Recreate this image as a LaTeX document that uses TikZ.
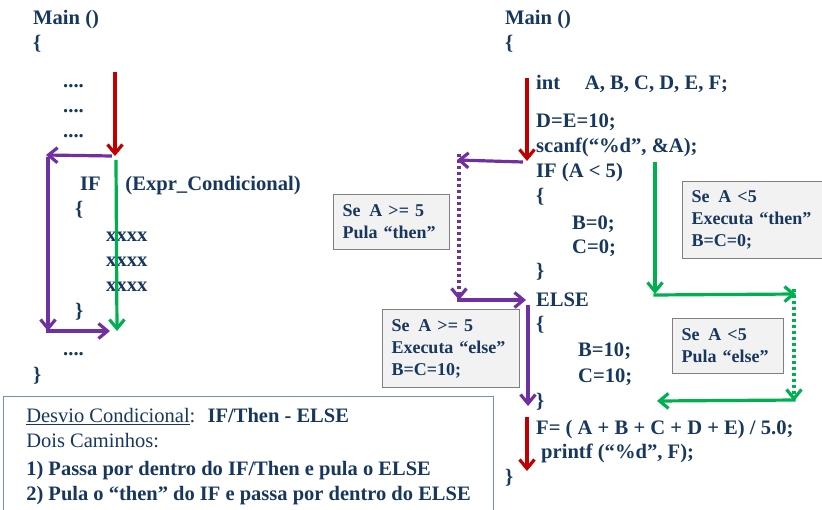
\documentclass[tikz,border=0pt]{standalone}
\usepackage{fontspec}
\setmainfont{Liberation Serif}
\usepackage{tikz}
\usetikzlibrary{arrows.meta}

\definecolor{codeblue}{RGB}{23,55,94}
\definecolor{flowred}{RGB}{192,0,0}
\definecolor{flowgreen}{RGB}{0,176,80}
\definecolor{flowpurple}{RGB}{112,48,160}
\definecolor{notegray}{RGB}{242,242,242}
\definecolor{noteedge}{RGB}{128,128,128}
\definecolor{infoedge}{RGB}{120,145,175}

\tikzset{
  >={Straight Barb[length=9pt, width=15pt]},
  code/.style={anchor=base west, inner sep=0pt, text=codeblue,
    font=\fontsize{20.6}{24}\selectfont\bfseries},
  flow/.style={line width=3.2pt, ->},
  dots/.style={dash pattern=on 3.2pt off 2.8pt},
  notebox/.style={draw=noteedge, fill=notegray, line width=1pt, anchor=north west,
    text=codeblue, align=left, inner xsep=9pt, inner ysep=0pt,
    font=\fontsize{18}{22}\selectfont\bfseries},
}

\begin{document}
\begin{tikzpicture}[x=1pt,y=-1pt]
        \useasboundingbox (0,0) rectangle (822,509);

        % Left program
        \node[code] (lmain) at (33,24) {Main ()};
        \node[code] (lopen) at (33,49) {\{};
        \node[code] (ldotsa) at (63,87) {....};
        \node[code] (ldotsb) at (63,112) {....};
        \node[code] (ldotsc) at (63,137) {....};
        \node[code] (lif) at (80,190) {IF\hspace{1.2em}(Expr\_Condicional)};
        \node[code] (lifopen) at (75,215) {\{};
        \node[code] (lxa) at (106,241) {xxxx};
        \node[code] (lxb) at (106,266) {xxxx};
        \node[code] (lxc) at (106,291) {xxxx};
        \node[code] (lifclose) at (75,317) {\}};
        \node[code] (ldotsd) at (63,355) {....};
        \node[code] (lclose) at (33,381) {\}};

        % Left flow lines
        \coordinate (lredtop) at (115,72);
        \coordinate (lsplit) at (115,156);
        \coordinate (lpurpleleft) at (48,155);
        \coordinate (lpurplebottom) at (48,331);
        \coordinate (ljoin) at (110,331);
        \coordinate (lgreentop) at (116,160);
        \coordinate (lgreenend) at (117,331);
        \draw[flow, flowred] (lredtop) -- (lsplit);
        \draw[flow, flowpurple] ([xshift=-3pt]lsplit) -- ([xshift=-2pt]lpurpleleft);
        \draw[flow, flowpurple] ([yshift=-1.6pt]lpurpleleft) -- (lpurplebottom);
        \draw[flow, flowpurple] ([xshift=-1.6pt]lpurplebottom) -- (ljoin);
        \draw[flow, flowgreen] (lgreentop) -- (lgreenend);

        % Right program
        \node[code] (rmain) at (505,24) {Main ()};
        \node[code] (ropen) at (505,49) {\{};
        \node[code] (rint) at (536,89) {int\hspace{0.95em} A, B, C, D, E, F;};
        \node[code] (rde) at (536,127) {D=E=10;};
        \node[code] (rscan) at (536,152) {scanf(“\%d”, \&A);};
        \node[code] (rif) at (536,177) {IF (A < 5)};
        \node[code] (rifopen) at (536,202) {\{};
        \node[code] (rba) at (572,229) {B=0;};
        \node[code] (rca) at (572,253) {C=0;};
        \node[code] (rifclose) at (536,277) {\}};
        \node[code] (relse) at (536,306) {ELSE};
        \node[code] (relseopen) at (536,330) {\{};
        \node[code] (rbb) at (578,356) {B=10;};
        \node[code] (rcb) at (578,382) {C=10;};
        \node[code] (relseclose) at (536,407) {\}};
        \node[code] (rf) at (536,434) {F= ( A + B + C + D + E) / 5.0;};
        \node[code] (rprint) at (541,458) {printf (“\%d”, F);};
        \node[code] (rclose) at (505,483) {\}};

        % Notes
        \node[notebox, minimum width=116pt, minimum height=55pt, text width=98pt]
          (nskipthen) at (333,194) {Se\, A >= 5\\Pula “then”};
        \node[notebox, minimum width=142pt, minimum height=77pt, text width=124pt]
          (nrunthen) at (682,181) {Se\, A <5\\Executa “then”\\B=C=0;};
        \node[notebox, minimum width=137pt, minimum height=78pt, text width=119pt]
          (nrunelse) at (382,309) {Se\, A >= 5\\Executa “else”\\B=C=10;};
        \node[notebox, minimum width=111pt, minimum height=55pt, text width=93pt]
          (nskipelse) at (672,318) {Se\, A <5\\Pula “else”};

        % Right flow lines: A >= 5
        \coordinate (rredtop) at (527,78);
        \coordinate (rsplit) at (527,161);
        \coordinate (rpurpleleft) at (459,160);
        \coordinate (rpurplebottom) at (459,300);
        \coordinate (relsein) at (526,300);
        \coordinate (relsetop) at (528,305);
        \coordinate (relseout) at (528,406);
        \coordinate (rredlow) at (527,417);
        \coordinate (rredend) at (527,471);
        \draw[flow, flowred] (rredtop) -- (rsplit);
        \draw[flow, flowpurple] ([xshift=-4pt,yshift=-1pt]rsplit) -- ([xshift=-2pt]rpurpleleft);
        \draw[flow, flowpurple, dots] ([yshift=6pt]rpurpleleft) -- (rpurplebottom);
        \draw[flow, flowpurple] ([xshift=-1.6pt]rpurplebottom) -- (relsein);
        \draw[flow, flowpurple] (relsetop) -- (relseout);
        \draw[flow, flowred] (rredlow) -- (rredend);

        % Right flow lines: A < 5
        \coordinate (rgreentop) at (655,162);
        \coordinate (rgreencorner) at (655,294);
        \coordinate (rgreenright) at (796,294);
        \coordinate (rgreenlow) at (794,401);
        \coordinate (rgreenend) at (657,401);
        \draw[flow, flowgreen] (rgreentop) -- (rgreencorner);
        \draw[flow, flowgreen] ([xshift=-1.6pt,yshift=-1pt]rgreencorner) -- (rgreenright);
        \draw[flow, flowgreen, dots] ([xshift=-2pt,yshift=5pt]rgreenright) -- (rgreenlow);
        \draw[flow, flowgreen] ([xshift=1.6pt,yshift=1pt]rgreenlow) -- (rgreenend);

        % Summary box
        \node[draw=infoedge, line width=1pt, anchor=north west, align=left, text=codeblue,
          minimum width=490pt, minimum height=120pt, inner xsep=8pt,
          inner ysep=8pt, font=\fontsize{20.5}{25}\selectfont] (summary) at (3,396)
          {\underline{Desvio Condicional}:\hspace{0.6em}\textbf{IF/Then - ELSE}\\
           Dois Caminhos:\\[3pt]
           \textbf{1) Passa por dentro do IF/Then e pula o ELSE}\\
           \textbf{2) Pula o “then” do IF e passa por dentro do ELSE}};
\end{tikzpicture}
\end{document}
